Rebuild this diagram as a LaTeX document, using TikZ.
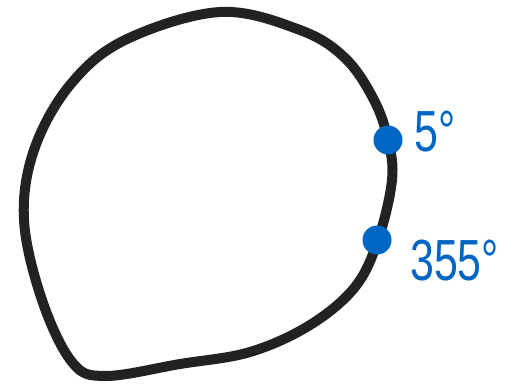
\documentclass[tikz,border=0pt]{standalone}
\usepackage{fontspec}
\setmainfont{Liberation Sans}
\definecolor{inkblue}{HTML}{0066C4}
\definecolor{inkblack}{HTML}{222222}
\begin{document}
\begin{tikzpicture}[x=1pt,y=-1pt,
  ring/.style={draw=inkblack,line width=10pt,line cap=round,line join=round},
  dotmark/.style={circle,fill=inkblue,inner sep=0pt,minimum size=29pt},
  deglabel/.style={text=inkblue,font=\fontsize{58}{58}\selectfont,inner sep=0pt,anchor=west,xscale=0.74}]
\useasboundingbox (0,0) rectangle (505,389);
\draw[ring] plot[smooth cycle,tension=0.6] coordinates {
  (220,12) (300,30) (345,58) (374,100) (388,140) (392,180) (378,240)
  (355,287) (310,325) (250,352) (180,364) (105,376) (72,362)
  (42,300) (24,220) (34,150) (70,85) (125,40)};
\node[dotmark] (p5) at (388,140) {};
\node[dotmark] (p355) at (377,240) {};
\node[deglabel] (l5) at (414,132) {5°};
\node[deglabel] (l355) at (410,261) {355°};
\end{tikzpicture}
\end{document}
